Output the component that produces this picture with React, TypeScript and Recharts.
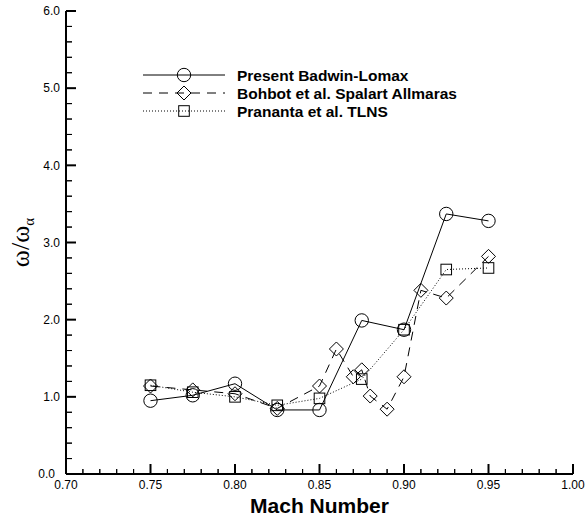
import React from 'react';
import { LineChart, Line, XAxis, YAxis, Legend } from 'recharts';

// ---- data ----
const presentMach = [0.75, 0.775, 0.8, 0.825, 0.85, 0.875, 0.9, 0.925, 0.95];
const presentOmega = [0.95, 1.02, 1.17, 0.83, 0.83, 1.99, 1.87, 3.37, 3.28];

const bohbotMach = [0.75, 0.775, 0.8, 0.825, 0.85, 0.86, 0.87, 0.875, 0.88, 0.89, 0.9, 0.91, 0.925, 0.95];
const bohbotOmega = [1.14, 1.09, 1.04, 0.85, 1.14, 1.62, 1.26, 1.35, 1.01, 0.84, 1.26, 2.38, 2.28, 2.82];

const pranantaMach = [0.75, 0.775, 0.8, 0.825, 0.85, 0.875, 0.9, 0.925, 0.95];
const pranantaOmega = [1.15, 1.06, 1.0, 0.89, 0.98, 1.23, 1.87, 2.65, 2.67];

const seriesNames = ['Present Badwin-Lomax', 'Bohbot et al. Spalart Allmaras', 'Prananta et al. TLNS'];

const xMajorTicks = [0.7, 0.75, 0.8, 0.85, 0.9, 0.95, 1.0];
const xMinorTicks = [
  0.71, 0.72, 0.73, 0.74, 0.76, 0.77, 0.78, 0.79, 0.81, 0.82, 0.83, 0.84,
  0.86, 0.87, 0.88, 0.89, 0.91, 0.92, 0.93, 0.94, 0.96, 0.97, 0.98, 0.99,
];
const yMajorTicks = [0, 1, 2, 3, 4, 5, 6];
const yMinorTicks = [
  0.2, 0.4, 0.6, 0.8, 1.2, 1.4, 1.6, 1.8, 2.2, 2.4, 2.6, 2.8, 3.2, 3.4, 3.6, 3.8,
  4.2, 4.4, 4.6, 4.8, 5.2, 5.4, 5.6, 5.8,
];

const toPoints = (xs: number[], ys: number[]) => xs.map((x, i) => ({ x, y: ys[i] }));
const presentData = toPoints(presentMach, presentOmega);
const bohbotData = toPoints(bohbotMach, bohbotOmega);
const pranantaData = toPoints(pranantaMach, pranantaOmega);

const SANS = '"Liberation Sans", Arial, Helvetica, sans-serif';

// ---- markers ----
const circleMark = (cx: number, cy: number, key?: any) => (
  <circle key={key} cx={cx} cy={cy} r={6.7} fill="none" stroke="#000" strokeWidth={1} />
);
const diamondMark = (cx: number, cy: number, key?: any) => (
  <polygon
    key={key}
    points={`${cx},${cy - 7} ${cx + 7},${cy} ${cx},${cy + 7} ${cx - 7},${cy}`}
    fill="none"
    stroke="#000"
    strokeWidth={1}
  />
);
const squareMark = (cx: number, cy: number, key?: any) => (
  <rect key={key} x={cx - 5.3} y={cy - 5.3} width={10.6} height={10.6} fill="none" stroke="#000" strokeWidth={1} />
);

const DASH = '9 7';
const DOT = '1 2';

// ---- tick labels (major tick lines drawn natively, pointing inward) ----
const XTickLabel = (props: any) => {
  const { x, y, payload } = props;
  return (
    <text x={Number(x)} y={Number(y)} textAnchor="middle" fontSize={12} fontFamily={SANS} fill="#000">
      {Number(payload.value).toFixed(2)}
    </text>
  );
};

const YTickLabel = (props: any) => {
  const { x, y, payload } = props;
  const extra = payload.value === 0 ? 5 : 0;
  return (
    <text x={Number(x) - extra} y={Number(y) + 4.3} textAnchor="end" fontSize={12} fontFamily={SANS} fill="#000">
      {Number(payload.value).toFixed(1)}
    </text>
  );
};

// minor tick marks drawn from the tick position given by the minor axes
const XMinorTick = (props: any) => {
  const x = Number(props.x);
  const y = Number(props.y);
  return <path d={`M${x},${y}V${y + 6}`} stroke="#000" strokeWidth={1} fill="none" />;
};
const YMinorTick = (props: any) => {
  const x = Number(props.x);
  const y = Number(props.y);
  return <path d={`M${x},${y}H${x - 7}`} stroke="#000" strokeWidth={1} fill="none" />;
};

// ---- legend ----
const legendRows = [
  { name: seriesNames[0], dash: undefined as string | undefined, mark: circleMark },
  { name: seriesNames[1], dash: DASH, mark: diamondMark },
  { name: seriesNames[2], dash: DOT, mark: squareMark },
];

const renderLegend = () => (
  <svg width={586} height={130} style={{ display: 'block' }}>
    {legendRows.map((r, i) => {
      const cy = 75 + i * 18;
      return (
        <g key={r.name}>
          <line x1={143} x2={225} y1={cy} y2={cy} stroke="#000" strokeWidth={1} strokeDasharray={r.dash} />
          {r.mark(184, cy)}
          <text x={237} y={cy + 5.5} fontSize={15.5} fontWeight="bold" fontFamily={SANS} fill="#000">
            {r.name}
          </text>
        </g>
      );
    })}
  </svg>
);

export default function App() {
  return (
    <div style={{ position: 'absolute', left: 0, top: 0, width: 586, height: 523, background: '#fff' }}>
      <LineChart width={586} height={523} margin={{ top: 11, right: 13, bottom: 47, left: 64 }}>
        <XAxis
          dataKey="x"
          type="number"
          domain={[0.7, 1.0]}
          ticks={xMajorTicks}
          interval={0}
          height={1}
          tickSize={-10}
          tickMargin={25}
          tickLine={{ stroke: '#000', strokeWidth: 2 }}
          tick={<XTickLabel />}
          axisLine={{ stroke: '#000', strokeWidth: 2 }}
          allowDataOverflow
          label={{
            content: (p: any) => {
              const vb = p.viewBox || { x: 66, y: 474, width: 507 };
              return (
                <text
                  x={vb.x + vb.width / 2}
                  y={vb.y + 39}
                  textAnchor="middle"
                  fontSize={21}
                  fontWeight="bold"
                  fontFamily={SANS}
                  fill="#000"
                >
                  Mach Number
                </text>
              );
            },
          }}
        />
        <XAxis
          xAxisId="minor"
          dataKey="x"
          type="number"
          domain={[0.7, 1.0]}
          ticks={xMinorTicks}
          interval={0}
          height={1}
          tickSize={-6}
          tickMargin={0}
          tickLine={{ stroke: '#000', strokeWidth: 1 }}
          tick={<XMinorTick />}
          axisLine={false}
          allowDataOverflow
        />
        <YAxis
          type="number"
          domain={[0, 6]}
          ticks={yMajorTicks}
          interval={0}
          width={1}
          tickSize={-10}
          tickMargin={16}
          tickLine={{ stroke: '#000', strokeWidth: 2 }}
          tick={<YTickLabel />}
          axisLine={{ stroke: '#000', strokeWidth: 2 }}
          allowDataOverflow
          label={{
            content: (p: any) => {
              const vb = p.viewBox || { x: 66, y: 11, height: 463 };
              const cy = vb.y + vb.height / 2;
              return (
                <text
                  transform={`translate(29, ${cy}) rotate(-90)`}
                  textAnchor="middle"
                  fontSize={26}
                  fontFamily='"Liberation Serif", "Times New Roman", serif'
                  fill="#000"
                >
                  ω/ω
                  <tspan fontSize={15} dy={5}>
                    α
                  </tspan>
                </text>
              );
            },
          }}
        />
        <YAxis
          yAxisId="minor"
          type="number"
          domain={[0, 6]}
          ticks={yMinorTicks}
          interval={0}
          width={1}
          tickSize={-7}
          tickMargin={0}
          tickLine={{ stroke: '#000', strokeWidth: 1 }}
          tick={<YMinorTick />}
          axisLine={false}
          allowDataOverflow
        />
        <Legend
          layout="horizontal"
          verticalAlign="middle"
          align="center"
          wrapperStyle={{ position: 'absolute', left: 0, top: 0, width: 586, height: 130 }}
          content={renderLegend}
        />
        <Line
          data={presentData}
          dataKey="y"
          name={seriesNames[0]}
          stroke="#000"
          strokeWidth={1}
          isAnimationActive={false}
          activeDot={false}
          dot={(p: any) => circleMark(p.cx, p.cy, `c${p.index}`)}
        />
        <Line
          data={bohbotData}
          dataKey="y"
          name={seriesNames[1]}
          stroke="#000"
          strokeWidth={1}
          strokeDasharray={DASH}
          isAnimationActive={false}
          activeDot={false}
          dot={(p: any) => diamondMark(p.cx, p.cy, `d${p.index}`)}
        />
        <Line
          data={pranantaData}
          dataKey="y"
          name={seriesNames[2]}
          stroke="#000"
          strokeWidth={1}
          strokeDasharray={DOT}
          isAnimationActive={false}
          activeDot={false}
          dot={(p: any) => squareMark(p.cx, p.cy, `s${p.index}`)}
        />
      </LineChart>
    </div>
  );
}
